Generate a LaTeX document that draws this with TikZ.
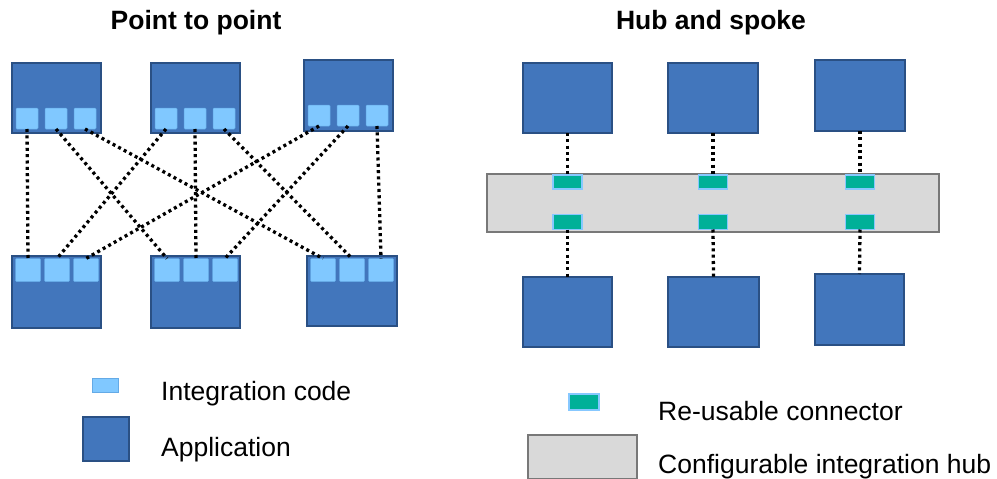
\documentclass[tikz,border=0pt]{standalone}
\usepackage{fontspec}
\setmainfont{Liberation Sans}
\definecolor{appfill}{RGB}{66,118,188}
\definecolor{appedge}{RGB}{42,80,132}
\definecolor{codefill}{RGB}{128,200,255}
\definecolor{codeedge}{RGB}{100,170,230}
\definecolor{connfill}{RGB}{0,176,152}
\definecolor{connedge}{RGB}{135,200,255}
\definecolor{hubfill}{RGB}{217,217,217}
\definecolor{hubedge}{RGB}{120,120,120}
\begin{document}
\begin{tikzpicture}[x=1pt,y=-1pt,
  app/.style={draw=appedge, fill=appfill, line width=2pt, minimum width=89pt,
    minimum height=70pt, inner sep=0pt, outer sep=0pt, anchor=north west},
  codetop/.style={fill=codefill, draw=codeedge, line width=0.5pt, rounded corners=1pt,
    minimum width=22pt, minimum height=21pt, inner sep=0pt, outer sep=0pt, anchor=north west},
  codebot/.style={codetop, minimum width=25pt, minimum height=23pt},
  conn/.style={fill=connfill, draw=connedge, line width=1.5pt, minimum width=29pt,
    minimum height=14pt, inner sep=0pt, outer sep=0pt},
  link/.style={line width=3.3pt, dash pattern=on 3pt off 3.3pt, black},
  title/.style={font=\bfseries\fontsize{26.5}{30}\selectfont, anchor=base, inner sep=0pt},
  lbl/.style={font=\fontsize{26.5}{30}\selectfont, anchor=base west, inner sep=0pt},
]
\useasboundingbox (0,0) rectangle (997,479);

% ---------- titles ----------
\node[title] (t1) at (196,30) {Point to point};
\node[title] (t2) at (711,30) {Hub and spoke};

% ---------- point to point: applications ----------
\node[app] (A1) at (12,63) {};
\node[app] (A2) at (151,63) {};
\node[app, minimum height=71pt] (A3) at (304,60) {};
\node[app, minimum height=72pt] (B1) at (12,256) {};
\node[app, minimum height=72pt] (B2) at (151,256) {};
\node[app, minimum width=90pt] (B3) at (307,256) {};

% integration code inside each application
\foreach \b in {A1,A2,A3}{
  \node[codetop] (\b s1) at ([xshift=4pt,yshift=-45pt]\b.north west) {};
  \node[codetop] (\b s2) at ([xshift=33pt,yshift=-45pt]\b.north west) {};
  \node[codetop] (\b s3) at ([xshift=62pt,yshift=-45pt]\b.north west) {};
}
\foreach \b in {B1,B2,B3}{
  \node[codebot] (\b s1) at ([xshift=3.5pt,yshift=-2.5pt]\b.north west) {};
  \node[codebot] (\b s2) at ([xshift=32.5pt,yshift=-2.5pt]\b.north west) {};
  \node[codebot] (\b s3) at ([xshift=61.5pt,yshift=-2.5pt]\b.north west) {};
}

% point-to-point links
\draw[link] (A1s1.south) -- (B1s1.north);
\draw[link] (A1s2.south) -- (B2s1.north);
\draw[link] (A1s3.south) -- (B3s1.north);
\draw[link] (A2s1.south) -- (B1s2.north);
\draw[link] (A2s2.south) -- (B2s2.north);
\draw[link] (A2s3.south) -- (B3s2.north);
\draw[link] (A3s1.south) -- (B1s3.north);
\draw[link] (A3s2.south) -- (B2s3.north);
\draw[link] (A3s3.south) -- (B3s3.north);

% ---------- hub and spoke ----------
\node[draw=hubedge, fill=hubfill, line width=2pt, minimum width=452pt, minimum height=58pt,
  inner sep=0pt, anchor=north west] (hub) at (486,173) {};

\node[app] (C1) at (523,63) {};
\node[app, minimum width=90pt] (C2) at (668,63) {};
\node[app, minimum width=90pt, minimum height=71pt] (C3) at (815,60) {};
\node[app] (D1) at (523,277) {};
\node[app, minimum width=91pt] (D2) at (668,277) {};
\node[app, minimum height=71pt] (D3) at (815,274) {};

\node[conn] (u1) at (567.5,182) {};
\node[conn] (u2) at (713,182) {};
\node[conn] (u3) at (860,182) {};
\node[conn, minimum height=15pt] (l1) at (567.5,222) {};
\node[conn, minimum height=15pt] (l2) at (713,222) {};
\node[conn, minimum height=15pt] (l3) at (860,222) {};

\draw[link] (C1.south) -- (u1.north);
\draw[link] (C2.south) -- (u2.north);
\draw[link] (C3.south) -- (u3.north);
\draw[link] (l1.south) -- (D1.north);
\draw[link] (l2.south) -- (D2.north);
\draw[link] (l3.south) -- (D3.north);

% ---------- legends ----------
\node[fill=codefill, draw=codeedge, line width=0.5pt, minimum width=26pt, minimum height=14pt,
  inner sep=0pt, anchor=north west] (kcode) at (92,378) {};
\node[app, minimum width=46pt, minimum height=44pt] (kapp) at (83,417) {};
\node[lbl] (kcodet) at (161,400) {Integration code};
\node[lbl] (kappt) at (161,456) {Application};

\node[conn, minimum width=30pt, minimum height=16pt, anchor=north west] (kconn) at (569,394) {};
\node[draw=hubedge, fill=hubfill, line width=2pt, minimum width=109pt, minimum height=44pt,
  inner sep=0pt, anchor=north west] (khub) at (527,434) {};
\node[lbl] (kconnt) at (658,420) {Re-usable connector};
\node[lbl] (khubt) at (658,473) {Configurable integration hub};
\end{tikzpicture}
\end{document}
